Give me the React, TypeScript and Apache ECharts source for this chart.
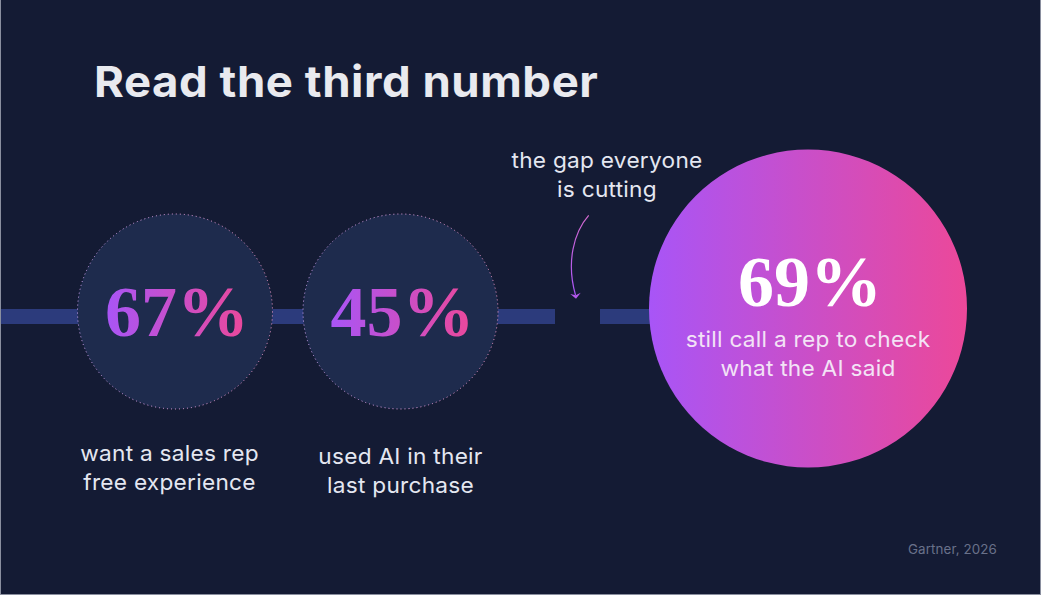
import { useEffect, useRef } from "react";
import * as echarts from "echarts";

const BG = "#141B34";
const DISC = "#1E2B4D";
const TRACK = "#2C3B7C";
const PURPLE = "#A855F7";
const PINK = "#EC4899";
const EDGE = "#8A8F9F";
const SANS = "Inter";
const SERIF = "Liberation Serif";

const title = "Read the third number";
const source = "Gartner, 2026";
const values = ["67%", "45%", "69%"];
const captions = [
  ["want a sales rep", "free experience"],
  ["used AI in their", "last purchase"],
  ["still call a rep to check", "what the AI said"],
];
const note = ["the gap everyone", "is cutting"];

const grad = (a = PURPLE, b = PINK) =>
  new echarts.graphic.LinearGradient(0, 0, 1, 0, [
    { offset: 0, color: a },
    { offset: 1, color: b },
  ]);

// one text block per line, centred on x
function lines(text: string[], x: number, y: number, step: number, style: any) {
  return text.map((t, i) => ({
    type: "text",
    z: 100,
    x,
    y: y + i * step,
    scaleX: 1.03,
    style: { text: t, textAlign: "center", textVerticalAlign: "middle", ...style },
  }));
}

function buildOption() {
  const captionStyle = { font: `400 22px ${SANS}`, fill: "#E4E7F1" };
  const ring = { color: DISC, opacity: 1, borderColor: grad("#D3A6F5", "#F59AC9"), borderWidth: 1, borderType: [1, 3] };
  const numberStyle = { font: `700 72px ${SERIF}`, textAlign: "center", textVerticalAlign: "middle" };
  return {
    animation: false,
    backgroundColor: BG,
    grid: { left: 0, right: 0, top: 0, bottom: 0 },
    xAxis: { type: "value", min: 0, max: 1041, show: false },
    yAxis: { type: "value", min: 0, max: 595, inverse: true, show: false },
    series: [
      {
        type: "line",
        silent: true,
        symbol: "none",
        z: 1,
        lineStyle: { color: TRACK, width: 15, cap: "butt" },
        data: [[1, 316.5], [555, 316.5], [null, null], [600, 316.5], [660, 316.5]],
      },
      {
        type: "scatter",
        silent: true,
        z: 2,
        data: [
          { value: [175, 311.5], symbolSize: 195, itemStyle: ring },
          { value: [400.5, 311.5], symbolSize: 195, itemStyle: ring },
          { value: [808, 308.5], symbolSize: 318, itemStyle: { color: grad(), opacity: 1 } },
        ],
      },
    ],
    graphic: [
      { type: "rect", z: 100, shape: { x: 0, y: 0, width: 1, height: 595 }, style: { fill: EDGE } },
      { type: "rect", z: 100, shape: { x: 1040, y: 0, width: 1, height: 595 }, style: { fill: EDGE } },
      { type: "rect", z: 100, shape: { x: 0, y: 594, width: 1041, height: 1 }, style: { fill: EDGE } },
      { type: "text", z: 100, x: 94, y: 81, scaleX: 1.06, style: { text: title, font: `700 43px ${SANS}`, fill: "#E9EAEF", textVerticalAlign: "middle" } },
      { type: "text", z: 100, x: 177, y: 312, style: { text: values[0], fill: "#B45CE8", ...numberStyle } },
      { type: "text", z: 100, x: 402.5, y: 312, style: { text: values[1], fill: "#B45CE8", ...numberStyle } },
      { type: "text", z: 100, x: 810, y: 282, style: { text: values[2], fill: "#FFFFFF", ...numberStyle } },
      ...lines(captions[0], 169.5, 453, 29, captionStyle),
      ...lines(captions[1], 400.5, 456, 29, captionStyle),
      ...lines(captions[2], 808, 339, 29, { ...captionStyle, fill: "#F3E3F6" }),
      ...lines(note, 607, 160, 29, captionStyle),
      {
        type: "bezierCurve",
        z: 100,
        shape: { x1: 588.7, y1: 215.3, cpx1: 574, cpy1: 232, cpx2: 566, cpy2: 262, x2: 575.5, y2: 295 },
        style: {
          lineWidth: 1.2,
          fill: "none",
          stroke: new echarts.graphic.LinearGradient(0, 0, 0, 1, [
            { offset: 0, color: "#D46AD0" },
            { offset: 1, color: PURPLE },
          ]),
        },
      },
      {
        type: "polygon",
        z: 100,
        shape: { points: [[570.3, 294], [575.7, 295.2], [580.7, 292.7], [576, 298.7]] },
        style: { fill: "#B558EC" },
      },
      { type: "text", z: 100, x: 997, y: 549, scaleX: 1.03, style: { text: source, font: `400 13px ${SANS}`, fill: "#69718A", textAlign: "right", textVerticalAlign: "middle" } },
    ],
  };
}

// zrender's svg text ignores gradient fills and letter spacing, so they are set here
function patchSvg(root: HTMLElement) {
  const svg = root.querySelector("svg");
  if (!svg) return;
  const NS = "http://www.w3.org/2000/svg";
  const def = document.createElementNS(NS, "linearGradient");
  def.setAttribute("id", "numberFill");
  [[0, PURPLE], [1, PINK]].forEach(([o, c]) => {
    const stop = document.createElementNS(NS, "stop");
    stop.setAttribute("offset", String(o));
    stop.setAttribute("stop-color", String(c));
    def.appendChild(stop);
  });
  const defs = svg.querySelector("defs") || svg.insertBefore(document.createElementNS(NS, "defs"), svg.firstChild);
  defs.appendChild(def);
  svg.querySelectorAll("text").forEach((t) => {
    const s = t.textContent || "";
    if (s === values[0] || s === values[1]) t.setAttribute("fill", "url(#numberFill)");
    if (values.includes(s)) return;
    let spacing = "0.25px";
    if (s === title) spacing = "0.5px";
    if (s === source) spacing = "0.1px";
    (t as SVGTextElement).style.letterSpacing = spacing;
  });
}

export default function App() {
  const ref = useRef<HTMLDivElement>(null);

  useEffect(() => {
    document.body.style.margin = "0";
    if (!ref.current) return;
    const chart = echarts.init(ref.current, undefined, { renderer: "svg" });
    chart.setOption(buildOption());
    patchSvg(ref.current);
    return () => chart.dispose();
  }, []);

  return <div ref={ref} style={{ width: 1041, height: 595 }} />;
}
